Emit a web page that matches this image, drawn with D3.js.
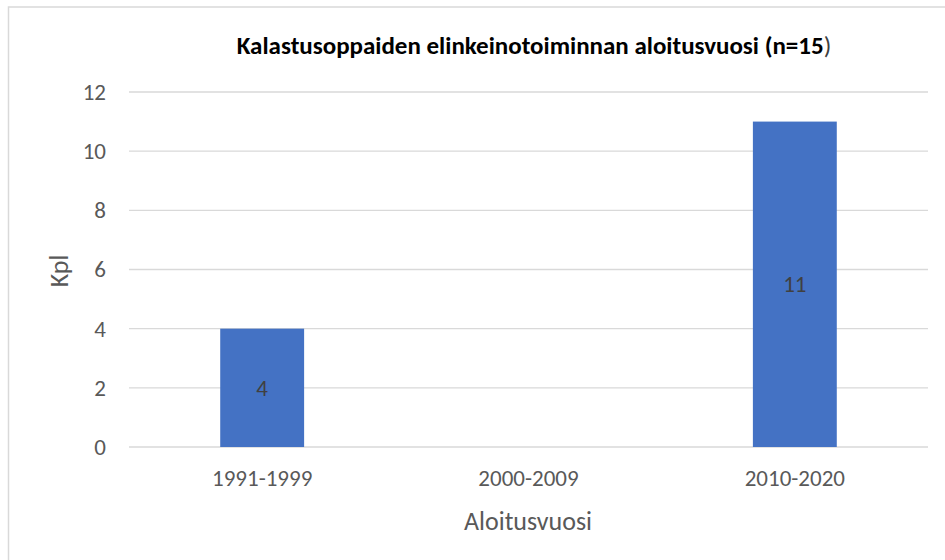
<!DOCTYPE html>
<html>
<head>
<meta charset="utf-8">
<script src="https://cdn.jsdelivr.net/npm/d3@7"></script>
<style>
  body { margin: 0; background: #fff; }
  svg { display: block; font-family: Carlito, Calibri, Lato, sans-serif; }
</style>
</head>
<body>
<div id="chart"></div>
<script>
/* DATA */
const categories = ["1991-1999", "2000-2009", "2010-2020"];
const counts = [4, null, 11];
const yTicks = [0, 2, 4, 6, 8, 10, 12];
const chartTitle = "Kalastusoppaiden elinkeinotoiminnan aloitusvuosi (n=15";
const xTitle = "Aloitusvuosi";
const yTitle = "Kpl";

/* LAYOUT */
const width = 945,
  height = 560,
  margin = { top: 92, bottom: 113, left: 129, right: 17 };

const svg = d3.select("#chart")
  .append("svg")
  .attr("width", width)
  .attr("height", height);

// chart frame (runs off the right and bottom edge)
svg.append("rect")
  .attr("x", 8.5)
  .attr("y", 7)
  .attr("width", 960)
  .attr("height", 600)
  .attr("fill", "none")
  .attr("stroke", "#d9d9d9")
  .attr("stroke-width", 1.5);

// scales
const xScale = d3.scaleBand()
  .domain(categories)
  .range([margin.left, width - margin.right])
  .paddingInner(0.685)
  .paddingOuter(0.3425);

const yScale = d3.scaleLinear()
  .domain([0, 12])
  .range([height - margin.bottom, margin.top]);

// gridlines
svg.append("g")
  .attr("class", "grid")
  .selectAll("line")
  .data(yTicks)
  .join("line")
  .attr("x1", margin.left)
  .attr("x2", width - margin.right)
  .attr("y1", d => yScale(d))
  .attr("y2", d => yScale(d))
  .attr("stroke", "#d9d9d9")
  .attr("stroke-width", 1.3);

// y axis (labels only)
const yAxis = d3.axisLeft(yScale).tickValues(yTicks).tickSize(0).tickPadding(0);
svg.append("g")
  .attr("transform", `translate(106,0)`)
  .call(yAxis)
  .attr("font-family", null)
  .attr("font-size", 23)
  .call(g => g.select(".domain").remove())
  .selectAll("text")
  .attr("fill", "#595959");

// x axis (labels only)
const xAxis = d3.axisBottom(xScale).tickSize(0).tickPadding(0);
svg.append("g")
  .attr("transform", `translate(0,${height - margin.bottom})`)
  .call(xAxis)
  .attr("font-family", null)
  .attr("font-size", 23)
  .call(g => g.select(".domain").remove())
  .selectAll("text")
  .attr("dy", null)
  .attr("y", 39)
  .attr("fill", "#595959");

// bars
const barData = categories.map((c, i) => ({ cat: c, value: counts[i] }))
  .filter(d => d.value != null);

svg.append("g")
  .selectAll("rect")
  .data(barData)
  .join("rect")
  .attr("x", d => xScale(d.cat))
  .attr("width", xScale.bandwidth())
  .attr("y", d => yScale(d.value))
  .attr("height", d => yScale(0) - yScale(d.value))
  .attr("fill", "#4472c4");

// value labels
svg.append("g")
  .selectAll("text")
  .data(barData)
  .join("text")
  .attr("x", d => xScale(d.cat) + xScale.bandwidth() / 2)
  .attr("y", d => (yScale(0) + yScale(d.value)) / 2)
  .attr("dy", "0.35em")
  .attr("text-anchor", "middle")
  .attr("fill", "#404040")
  .attr("font-size", 23)
  .text(d => d.value);

// title
const title = svg.append("text")
  .attr("x", 534)
  .attr("y", 54)
  .attr("text-anchor", "middle")
  .attr("font-size", 25)
  .attr("fill", "#000");
title.append("tspan").attr("font-weight", "bold").text(chartTitle);
title.append("tspan").attr("fill", "#404040").text(")");

// axis titles
svg.append("text")
  .attr("x", 528)
  .attr("y", 530)
  .attr("text-anchor", "middle")
  .attr("font-size", 26)
  .attr("fill", "#595959")
  .text(xTitle);

svg.append("text")
  .attr("transform", "translate(68,271) rotate(-90)")
  .attr("text-anchor", "middle")
  .attr("font-size", 26)
  .attr("fill", "#595959")
  .text(yTitle);
</script>
</body>
</html>
